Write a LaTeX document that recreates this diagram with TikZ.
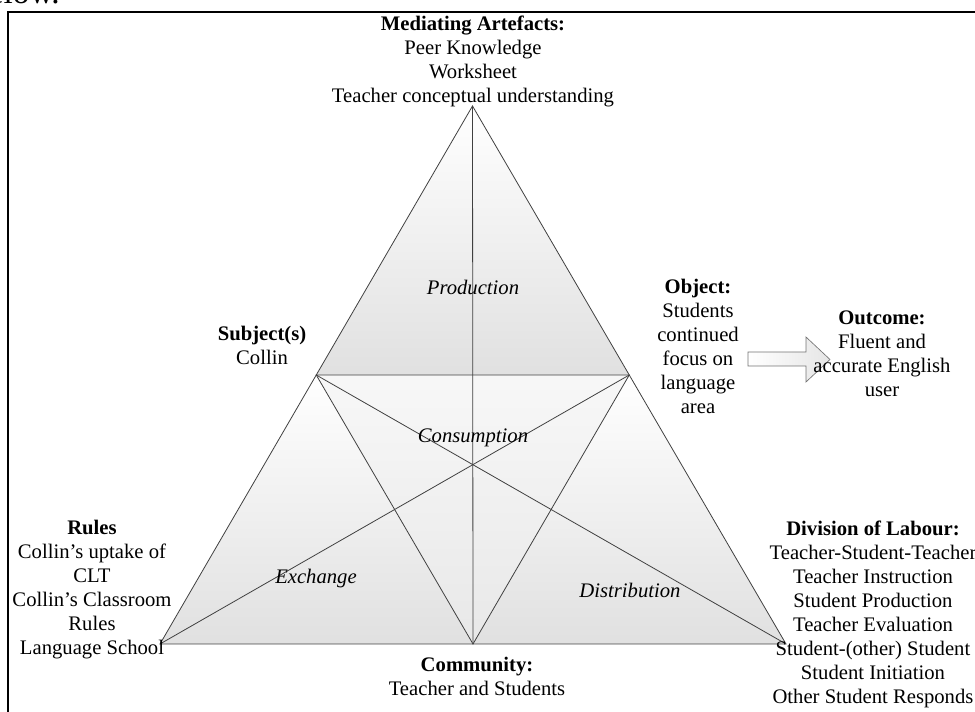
\documentclass[tikz,border=0pt]{standalone}
\usepackage{fontspec}
\setmainfont{Liberation Serif}
\begin{document}
\begin{tikzpicture}[x=0.75pt,y=-0.75pt,
  edge/.style={draw=black!75, line width=0.6pt},
  lbl/.style={font=\fontsize{15.5}{18}\selectfont, align=center, inner sep=0pt},
  ital/.style={font=\fontsize{15.5}{18}\selectfont\itshape, inner sep=0pt},
  region/.style={top color=white, bottom color=black!12},
  blockarrow/.style={left color=white, right color=black!10, draw=black!55, line width=0.5pt}]
\useasboundingbox (0,0) rectangle (975,712);
% frame
\draw[line width=1.5pt] (8,12) rectangle (1000,740);
\node[font=\fontsize{25}{28}\selectfont, inner sep=0pt, anchor=base east] (frag) at (60,3.5) {below.};
% triangle points
\coordinate (A) at (472.5,106);
\coordinate (L) at (160,644);
\coordinate (R) at (786,644);
\coordinate (S) at (316.25,375);
\coordinate (O) at (629.25,375);
\coordinate (C) at (473,644);
% shading
\shade[region] (A) -- (S) -- (O) -- cycle;
\shade[region] (S) -- (L) -- (C) -- cycle;
\shade[region] (O) -- (C) -- (R) -- cycle;
\shade[top color=black!3, bottom color=black!9] (S) -- (O) -- (C) -- cycle;
% lines
\draw[edge] (A) -- (L) -- (R) -- cycle;
\draw[edge] (S) -- (O) -- (C) -- cycle;
\draw[edge] (A) -- (C);
\draw[edge] (L) -- (O);
\draw[edge] (R) -- (S);
% arrow
\shade[blockarrow] (748,352) -- (806,352) -- (806,337) -- (830,359.5) -- (806,382) -- (806,366) -- (748,366) -- cycle;
% labels
\node[lbl] (med) at (473,61.5) {\textbf{Mediating Artefacts:}\\Peer Knowledge\\Worksheet\\Teacher conceptual understanding};
\node[lbl] (subj) at (262,345) {\textbf{Subject(s)}\\Collin};
\node[lbl] (obj) at (698,346.5) {\textbf{Object:}\\Students\\continued\\focus on\\language\\area};
\node[lbl] (out) at (882,354) {\textbf{Outcome:}\\Fluent and\\accurate English\\user};
\node[lbl] (rules) at (92,589.5) {\textbf{Rules}\\Collin’s uptake of\\CLT\\Collin’s Classroom\\Rules\\Language School};
\node[lbl] (div) at (873,614.5) {\textbf{Division of Labour:}\\Teacher-Student-Teacher\\Teacher Instruction\\Student Production\\Teacher Evaluation\\Student-(other) Student\\Student Initiation\\Other Student Responds};
\node[lbl] (comm) at (477,676.5) {\textbf{Community:}\\Teacher and Students};
\node[ital] (prod) at (473,287) {Production};
\node[ital] (cons) at (473,438) {Consumption};
\node[ital] (exch) at (316,579) {Exchange};
\node[ital] (dist) at (630,590) {Distribution};
\end{tikzpicture}
\end{document}
